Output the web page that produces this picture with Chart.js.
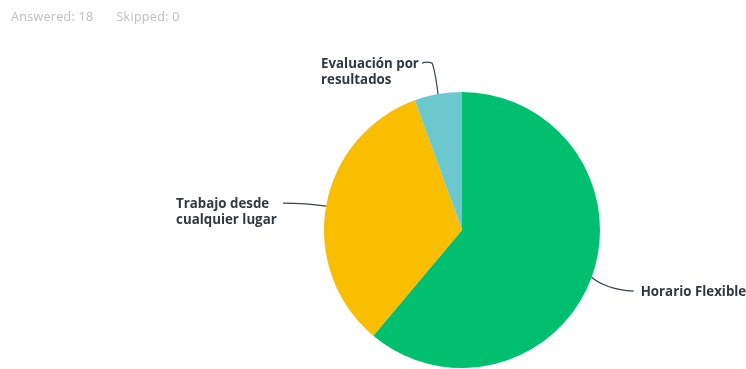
<!DOCTYPE html>
<html>
<head>
<meta charset="utf-8">
<script src="https://cdn.jsdelivr.net/npm/chart.js@4/dist/chart.umd.min.js"></script>
<style>
  html, body { margin: 0; padding: 0; background: #ffffff; }
  #wrap { position: relative; width: 746px; height: 369px; overflow: hidden; }
  #summary {
    position: absolute; left: 11px; top: 8px;
    font-family: "Open Sans", sans-serif; font-size: 12.5px; color: #bdbdbd;
    white-space: nowrap; letter-spacing: 0.3px;
  }
  #summary span + span { margin-left: 23px; }
  canvas { position: absolute; left: 0; top: 0; }
</style>
</head>
<body>
<div id="wrap">
  <canvas id="chart" width="746" height="369"></canvas>
  <div id="summary"><span>Answered: 18</span><span>Skipped: 0</span></div>
</div>
<script>
// Survey answers per option
const categories = ["Horario Flexible", "Trabajo desde cualquier lugar", "Evaluación por resultados"];
const labelLines = [["Horario Flexible"], ["Trabajo desde", "cualquier lugar"], ["Evaluación por", "resultados"]];
const responses = [11, 6, 1];
const sliceColors = ["#00bf6f", "#f9be00", "#6bc8cd"];

// Callout placement relative to each slice's outer midpoint
const callouts = [
  { path: [[14, 12], [42, 14]], text: [49, 19] },
  { path: [[-20, -3], [-43, -3]], text: [-150, 2] },
  { path: [[-3, -24], [-6, -31], [-11, -33], [-16, -31]], text: [-117, -26] }
];

const calloutPlugin = {
  id: "callouts",
  afterDatasetsDraw(chart) {
    const ctx = chart.ctx;
    const arcs = chart.getDatasetMeta(0).data;
    ctx.save();
    arcs.forEach((arc, i) => {
      const mid = (arc.startAngle + arc.endAngle) / 2;
      const ax = arc.x + Math.cos(mid) * arc.outerRadius;
      const ay = arc.y + Math.sin(mid) * arc.outerRadius;
      const c = callouts[i];
      ctx.strokeStyle = "#3a424a";
      ctx.lineWidth = 1.2;
      ctx.beginPath();
      ctx.moveTo(ax, ay);
      for (let p = 0; p + 1 < c.path.length; p += 2) {
        ctx.quadraticCurveTo(ax + c.path[p][0], ay + c.path[p][1], ax + c.path[p + 1][0], ay + c.path[p + 1][1]);
      }
      ctx.stroke();
      ctx.fillStyle = "#2f3840";
      ctx.font = "bold 13.3px 'Open Sans', sans-serif";
      ctx.textAlign = "left";
      ctx.textBaseline = "alphabetic";
      labelLines[i].forEach((line, k) => {
        ctx.fillText(line, ax + c.text[0], ay + c.text[1] + k * 16);
      });
    });
    ctx.restore();
  }
};

new Chart(document.getElementById("chart"), {
  type: "pie",
  data: {
    labels: categories,
    datasets: [{
      data: responses,
      backgroundColor: sliceColors,
      borderWidth: 0,
      hoverOffset: 0
    }]
  },
  options: {
    responsive: false,
    animation: false,
    events: [],
    layout: { padding: { left: 324, right: 146, top: 92, bottom: 1 } },
    plugins: { legend: { display: false }, tooltip: { enabled: false } }
  },
  plugins: [calloutPlugin]
});
</script>
</body>
</html>
